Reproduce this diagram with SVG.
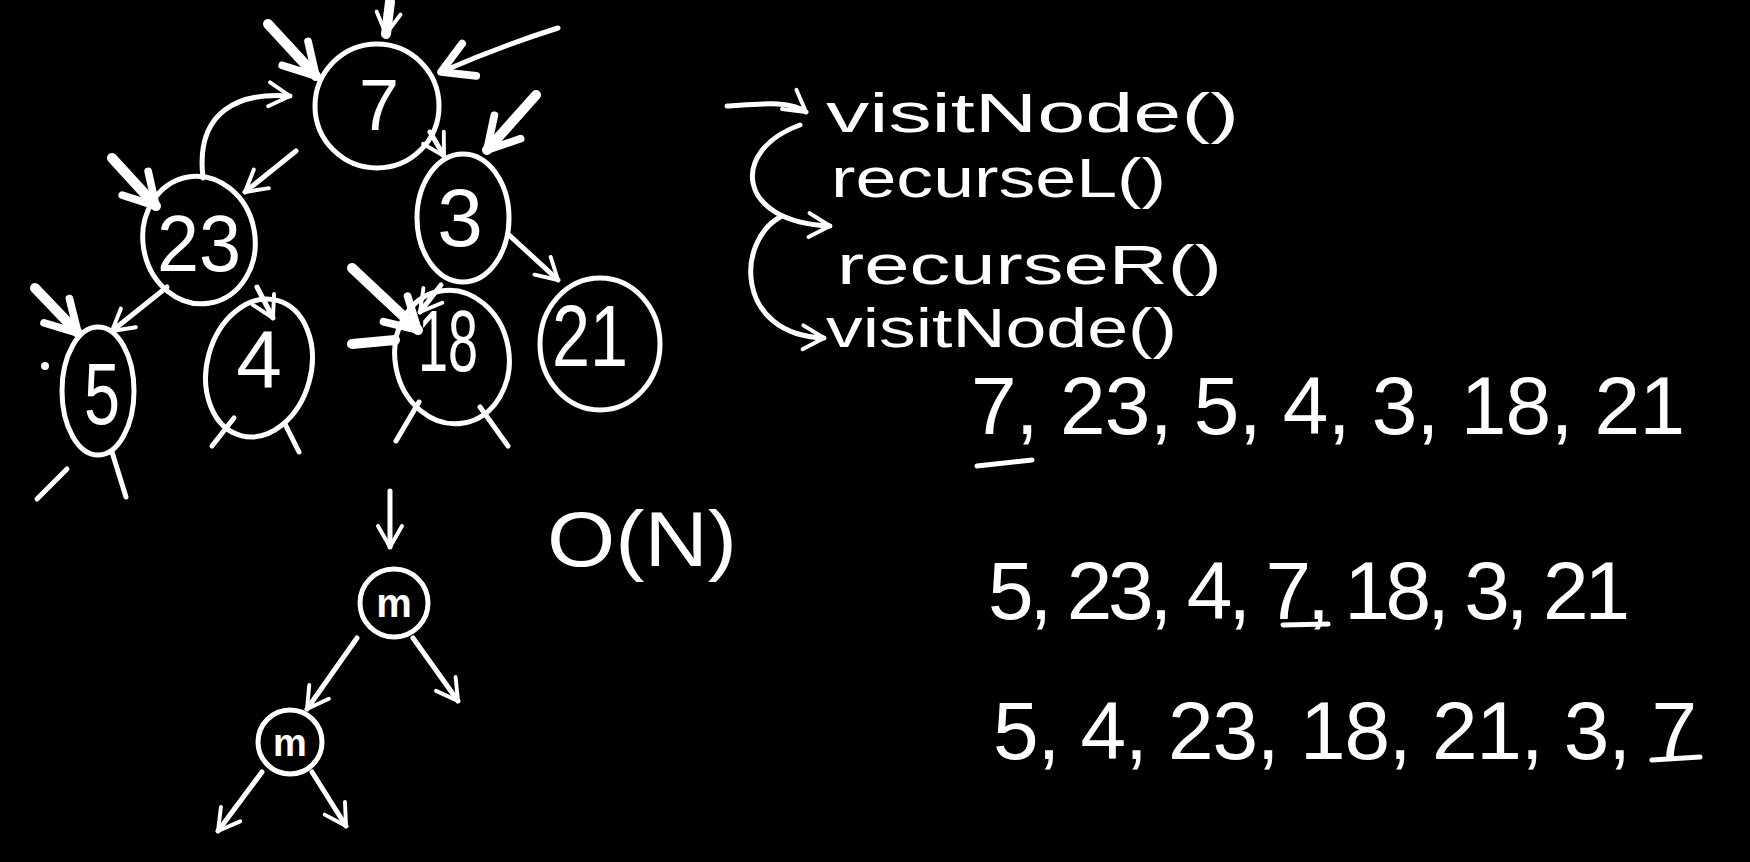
<svg xmlns="http://www.w3.org/2000/svg" width="1750" height="862" viewBox="0 0 1750 862">
<defs>
<style>
.s{fill:none;stroke:#fff;stroke-width:5;stroke-linecap:round;stroke-linejoin:round}
.b{fill:none;stroke:#fff;stroke-width:10;stroke-linecap:round}
.t{fill:#fff;font-family:"Liberation Sans",Arial,sans-serif}
.n{text-anchor:middle}
.code{font-size:56px}
.seq{font-size:82px}
</style>
<marker id="ah" viewBox="0 0 20 20" refX="17" refY="10" markerWidth="30" markerHeight="30" markerUnits="userSpaceOnUse" orient="auto">
<path d="M3,2 L17,10 L3,18" fill="none" stroke="#fff" stroke-width="2.6" stroke-linecap="round" stroke-linejoin="round"/>
</marker>
<marker id="ahb" viewBox="0 0 20 20" refX="17" refY="10" markerWidth="44" markerHeight="44" markerUnits="userSpaceOnUse" orient="auto">
<path d="M3,2 L17,10 L3,18" fill="none" stroke="#fff" stroke-width="3.5" stroke-linecap="round" stroke-linejoin="round"/>
</marker>
</defs>
<rect width="1750" height="862" fill="#000"/>

<g id="node-7"><ellipse class="s" cx="377" cy="106" rx="62" ry="62"/><text class="t n" x="379" y="130" font-size="72">7</text></g>
<g id="node-23"><ellipse class="s" cx="199" cy="240" rx="56" ry="64" transform="rotate(-10 199 240)"/><text class="t n" x="199" y="271" font-size="80" textLength="84" lengthAdjust="spacingAndGlyphs">23</text></g>
<g id="node-3"><ellipse class="s" cx="463" cy="218" rx="46" ry="64"/><text class="t n" x="460" y="246" font-size="82">3</text></g>
<g id="node-5"><ellipse class="s" cx="98" cy="391" rx="36" ry="64"/><text class="t n" x="102" y="424" font-size="88" textLength="36" lengthAdjust="spacingAndGlyphs">5</text></g>
<g id="node-4"><ellipse class="s" cx="259" cy="368" rx="52" ry="70" transform="rotate(15 259 368)"/><text class="t n" x="259" y="388" font-size="82">4</text></g>
<g id="node-18"><ellipse class="s" cx="452" cy="357" rx="57" ry="67" transform="rotate(-10 452 357)"/><text class="t n" x="448" y="371" font-size="88" textLength="60" lengthAdjust="spacingAndGlyphs">18</text></g>
<g id="node-21"><ellipse class="s" cx="600" cy="344" rx="60" ry="66"/><text class="t n" x="590" y="366" font-size="88" textLength="76" lengthAdjust="spacingAndGlyphs">21</text></g>
<g id="node-m1"><circle class="s" cx="394" cy="603" r="34"/><text class="t" x="394" y="617" font-size="40" font-weight="bold" text-anchor="middle">m</text></g>
<g id="node-m2"><circle class="s" cx="290" cy="742" r="32"/><text class="t" x="290" y="756" font-size="38" font-weight="bold" text-anchor="middle">m</text></g>

<g id="connectors">
<line class="s" x1="296" y1="151" x2="245" y2="192" marker-end="url(#ah)"/>
<line class="s" x1="430" y1="132" x2="444" y2="156" marker-end="url(#ah)"/>
<path class="s" d="M203,178 C195,110 240,92 290,96" marker-end="url(#ah)"/>
<line class="s" x1="167" y1="287" x2="112" y2="331" marker-end="url(#ah)"/>
<line class="s" x1="257" y1="287" x2="273" y2="318" marker-end="url(#ah)"/>
<line class="s" x1="441" y1="285" x2="420" y2="312" marker-end="url(#ah)"/>
<line class="s" x1="508" y1="234" x2="558" y2="280" marker-end="url(#ah)"/>
<line class="b" x1="268" y1="24" x2="316" y2="76" marker-end="url(#ahb)"/>
<line class="b" x1="390" y1="2" x2="386" y2="34" marker-end="url(#ah)"/>
<path class="s" d="M558,28 C520,40 480,55 441,72" marker-end="url(#ahb)"/>
<line class="b" x1="536" y1="95" x2="487" y2="150" marker-end="url(#ahb)"/>
<line class="b" x1="112" y1="158" x2="156" y2="206" marker-end="url(#ahb)"/>
<line class="b" x1="35" y1="288" x2="78" y2="333" marker-end="url(#ahb)"/>
<line class="b" x1="352" y1="268" x2="418" y2="330" marker-end="url(#ahb)"/>
<line class="b" x1="352" y1="344" x2="395" y2="340"/>
<circle cx="45" cy="366" r="4" fill="#fff"/>
<line class="s" x1="67" y1="469" x2="37" y2="499"/>
<line class="s" x1="112" y1="452" x2="126" y2="497"/>
<line class="s" x1="234" y1="418" x2="212" y2="446"/>
<line class="s" x1="285" y1="424" x2="299" y2="452"/>
<line class="s" x1="419" y1="402" x2="396" y2="441"/>
<line class="s" x1="480" y1="407" x2="508" y2="446"/>
<line class="s" x1="390" y1="491" x2="390" y2="547" marker-end="url(#ah)"/>
<line class="s" x1="357" y1="638" x2="307" y2="709" marker-end="url(#ah)"/>
<line class="s" x1="413" y1="638" x2="458" y2="701" marker-end="url(#ah)"/>
<line class="s" x1="262" y1="772" x2="218" y2="831" marker-end="url(#ah)"/>
<line class="s" x1="312" y1="772" x2="346" y2="826" marker-end="url(#ah)"/>
<path class="s" d="M727,106 C760,104 790,100 806,112" marker-end="url(#ah)"/>
<path class="s" d="M800,125 C730,150 735,222 830,226" marker-end="url(#ah)"/>
<path class="s" d="M782,216 C735,240 735,335 824,338" marker-end="url(#ah)"/>
</g>

<g id="labels">
<text class="t code" x="826" y="132" textLength="413" lengthAdjust="spacingAndGlyphs">visitNode()</text>
<text class="t code" x="831" y="197" textLength="335" lengthAdjust="spacingAndGlyphs">recurseL()</text>
<text class="t code" x="837" y="284" textLength="385" lengthAdjust="spacingAndGlyphs">recurseR()</text>
<text class="t code" x="826" y="347" textLength="351" lengthAdjust="spacingAndGlyphs">visitNode()</text>
<text class="t" x="547" y="566" font-size="78" textLength="190" lengthAdjust="spacingAndGlyphs">O(N)</text>
<text class="t seq" x="971" y="434" textLength="714" lengthAdjust="spacing">7, 23, 5, 4, 3, 18, 21</text>
<line class="s" x1="977" y1="466" x2="1032" y2="460"/>
<text class="t seq" x="988" y="619" textLength="642" lengthAdjust="spacing">5, 23, 4, 7, 18, 3, 21</text>
<line class="s" x1="1283" y1="625" x2="1328" y2="624"/>
<text class="t seq" x="993" y="759" textLength="704" lengthAdjust="spacing">5, 4, 23, 18, 21, 3, 7</text>
<line class="s" x1="1652" y1="760" x2="1700" y2="757"/>
</g>
</svg>
